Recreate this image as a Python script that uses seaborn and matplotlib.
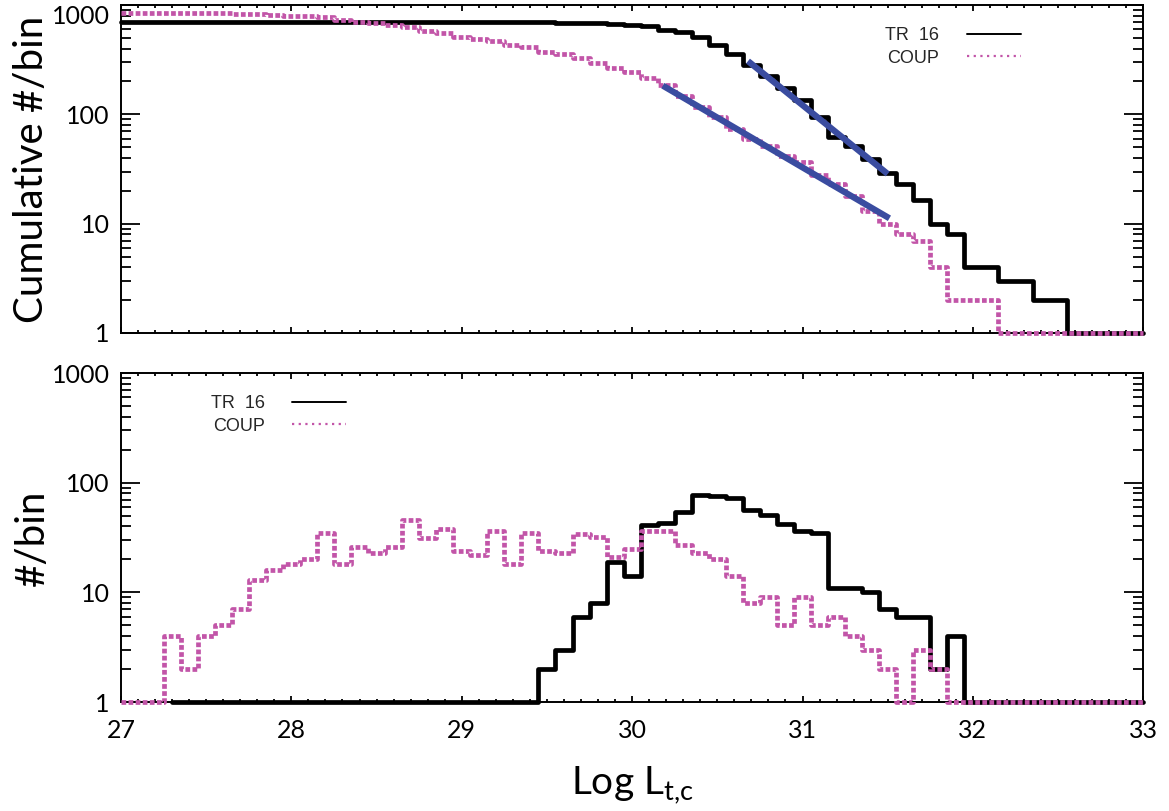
import numpy as np
import pandas as pd
import matplotlib
matplotlib.use("Agg")
import matplotlib.pyplot as plt
import seaborn as sns
from matplotlib.ticker import MultipleLocator, LogLocator, FuncFormatter, NullFormatter
from matplotlib.lines import Line2D

# ---------------- data ----------------
BIN_START, BIN_WIDTH, N_BINS = 27.0, 0.1, 61
log_l = np.round(BIN_START + BIN_WIDTH * np.arange(N_BINS), 1)

# top panel: cumulative counts per bin
tr16_cum = ([697] * 25 +
            [695, 690, 687, 681, 673, 654, 640, 597, 561, 505, 430, 353, 282, 224, 176,
             135, 95, 62, 51, 39, 29, 23, 16.5, 10, 8, 4, 4, 3, 3, 2, 2] +
            [1] * 5)
coup_cum = ([848, 848, 846, 845, 843, 840, 838, 834, 826, 813, 802, 790, 769, 727, 706,
             678, 660, 635, 580, 549, 512, 487, 467, 429, 409, 373, 353, 329, 292, 263,
             242, 216, 185, 147, 117, 94, 74, 60, 51, 42, 37, 28, 23, 18, 13, 10, 8, 7,
             4, 2, 2, 2] +
            [1] * 9)

# bottom panel: counts per bin
tr16_bin = ([np.nan] * 3 + [1] * 22 +
            [2, 3, 6, 8, 19, 14, 41, 43, 54, 77, 76, 72, 56, 51, 42, 36, 35, 11, 11, 10,
             7, 6, 6, 2, 4] +
            [1] * 11)
coup_bin = ([1] * 3 +
            [4, 2, 4, 5, 7, 13, 16, 18, 20, 35, 18, 26, 23, 26, 46, 31, 38, 24, 22, 36,
             18, 35, 24, 23, 34, 32, 21, 25, 36, 36, 27, 23, 20, 14, 8, 9, 5, 9, 5, 6,
             4, 3, 2, 1, 3, 2] +
            [1] * 12)

# power-law fits (endpoints)
fit_tr16_x = [30.68, 31.50]
fit_tr16_y = [307, 28.5]
fit_coup_x = [30.18, 31.51]
fit_coup_y = [183, 11.2]

series_labels = ["TR  16", "COUP"]
x_ticks = [27, 28, 29, 30, 31, 32, 33]

# ---------------- style ----------------
sns.set_theme(style="white")
plt.rcParams["font.family"] = ["Lato", "DejaVu Sans"]
plt.rcParams["mathtext.fontset"] = "custom"
plt.rcParams["mathtext.rm"] = "Lato"
plt.rcParams["mathtext.it"] = "Lato"

BLACK = "#000000"
PINK = "#c255a8"
BLUE = "#3a4ca0"

fig = plt.figure(figsize=(11.69, 8.11), dpi=100)
ax_top = fig.add_axes([0.1035, 0.5894, 0.8745, 0.4044])
ax_bot = fig.add_axes([0.1035, 0.1344, 0.8745, 0.4056])

top_df = pd.DataFrame({"x": log_l, "tr16": tr16_cum, "coup": coup_cum})
bot_df = pd.DataFrame({"x": log_l, "tr16": tr16_bin, "coup": coup_bin})

dot_style = (0, (1, 0.5))

for ax, df in [(ax_top, top_df), (ax_bot, bot_df)]:
    sns.lineplot(data=df, x="x", y="tr16", ax=ax, color=BLACK, lw=3.4,
                 drawstyle="steps-mid", estimator=None, sort=False, clip_on=False,
                 zorder=3)
    sns.lineplot(data=df, x="x", y="coup", ax=ax, color=PINK, lw=3.4,
                 drawstyle="steps-mid", estimator=None, sort=False, clip_on=False,
                 linestyle=dot_style, dash_capstyle="butt", zorder=4)

sns.lineplot(x=fit_tr16_x, y=fit_tr16_y, ax=ax_top, color=BLUE, lw=4.5,
             solid_capstyle="butt", zorder=5)
sns.lineplot(x=fit_coup_x, y=fit_coup_y, ax=ax_top, color=BLUE, lw=4.5,
             solid_capstyle="butt", zorder=5)

for ax in (ax_top, ax_bot):
    ax.set_yscale("log")
    ax.set_xlim(27, 33)
    ax.set_ylim(1, 1000)
    ax.xaxis.set_major_locator(MultipleLocator(1))
    ax.xaxis.set_minor_locator(MultipleLocator(0.1))
    ax.yaxis.set_major_locator(LogLocator(base=10, subs=(1.0,)))
    ax.yaxis.set_minor_locator(LogLocator(base=10, subs=np.arange(2, 10)))
    ax.yaxis.set_major_formatter(FuncFormatter(lambda v, _: f"{v:g}"))
    ax.yaxis.set_minor_formatter(NullFormatter())
    ax.tick_params(axis="both", which="both", direction="in",
                   top=True, right=True, bottom=True, left=True,
                   colors=BLACK, width=1.3)
    ax.tick_params(axis="y", which="major", length=14, pad=8, labelsize=18)
    ax.tick_params(axis="y", which="minor", length=7)
    ax.tick_params(axis="x", which="major", length=4.5, pad=12, labelsize=18)
    ax.tick_params(axis="x", which="minor", length=2.3)
    for sp in ax.spines.values():
        sp.set_linewidth(1.4)
        sp.set_color(BLACK)
    ax.set_xlabel("")
    handles = [Line2D([], [], color=BLACK, lw=1.4),
               Line2D([], [], color=PINK, lw=1.6, linestyle=(0, (1, 2)))]
    ax.legend(handles, series_labels, markerfirst=False, frameon=False,
              loc="upper left", borderpad=0, handlelength=3.0, handletextpad=1.5,
              labelspacing=0.3,
              prop={"family": ["Liberation Sans", "DejaVu Sans"], "size": 13})

ax_top.legend_.set_bbox_to_anchor((0.739, 0.96), transform=ax_top.transAxes)
ax_bot.legend_.set_bbox_to_anchor((0.079, 0.96), transform=ax_bot.transAxes)

ax_top.set_xticks(x_ticks)
ax_top.set_xticklabels([])
ax_bot.set_xticks(x_ticks)
ax_bot.set_xticklabels([str(t) for t in x_ticks])

ax_top.set_ylabel("Cumulative #/bin", fontsize=29, color=BLACK)
ax_bot.set_ylabel("#/bin", fontsize=29, color=BLACK)
ax_top.yaxis.set_label_coords(-0.069, 0.5)
ax_bot.yaxis.set_label_coords(-0.069, 0.5)
ax_bot.set_xlabel(r"Log L$_{\mathrm{t{,}c}}$", fontsize=28, color=BLACK)
ax_bot.xaxis.set_label_coords(0.5, -0.19)

# keep the top "1000" label inside the figure, as in the reference
fig.canvas.draw()
for lab in ax_top.yaxis.get_majorticklabels():
    if lab.get_text() == "1000":
        lab.set_verticalalignment("top")

fig.savefig("out.png", dpi=100)
